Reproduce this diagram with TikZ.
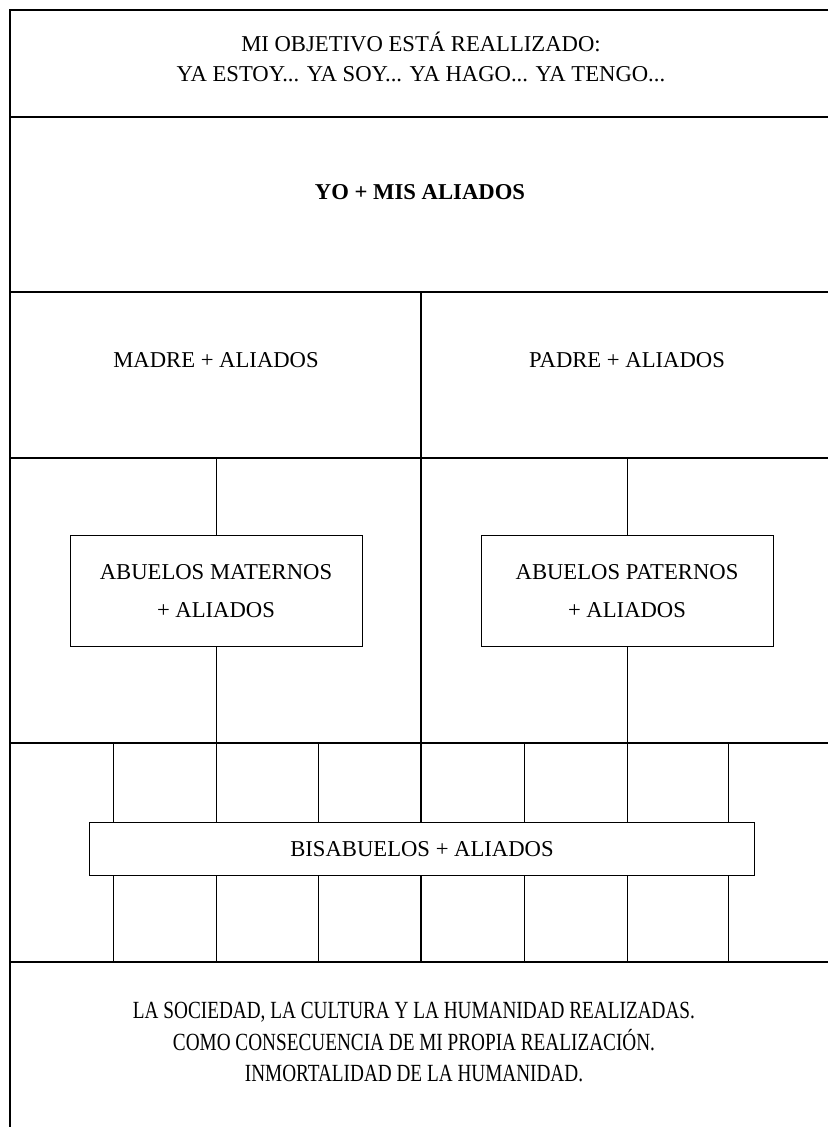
\documentclass[tikz,border=0pt]{standalone}
\usepackage{fontspec}
\setmainfont{Liberation Serif}
\newfontfamily\narrowserif{Liberation Serif}[FakeStretch=0.78]
\usetikzlibrary{positioning,calc}

\begin{document}
\begin{tikzpicture}[x=0.75pt,y=-0.75pt,
   txt/.style={align=center,font=\fontsize{17}{22}\selectfont},
   bx/.style={draw,fill=white,line width=0.6pt,align=center,font=\fontsize{17}{28}\selectfont},
   frame/.style={line width=1.8pt},
   link/.style={line width=0.6pt}]
  \useasboundingbox (0,0) rectangle (828,1127);
  % frame and rows
  \draw[frame] (828,10) -- (10,10) -- (10,1127);
  \foreach \y in {117,292,458,743,962}
    \draw[frame] (10,\y) -- (828,\y);
  \draw[frame] (421,292) -- (421,962);
  % texts
  \node[txt] (obj) at (421,57) {MI OBJETIVO ESTÁ REALLIZADO:\\YA ESTOY... YA SOY... YA HAGO... YA TENGO...};
  \node[txt,font=\fontsize{17}{22}\selectfont\bfseries] (yo) at (420,192) {YO + MIS ALIADOS};
  \node[txt] (madre) at (216,360) {MADRE + ALIADOS};
  \node[txt] (padre) at (627,360) {PADRE + ALIADOS};
  \node[bx,minimum width=219pt,minimum height=83pt] (amat) at (216,591) {ABUELOS MATERNOS\\+ ALIADOS};
  \node[bx,minimum width=219pt,minimum height=83pt] (apat) at (627,591) {ABUELOS PATERNOS\\+ ALIADOS};
  \node[bx,minimum width=499pt,minimum height=40pt] (bis) at (422,849) {BISABUELOS + ALIADOS};
  \node[txt,font=\narrowserif\fontsize{18.5}{23.5}\selectfont] (soc) at (414,1042) {LA SOCIEDAD, LA CULTURA Y LA HUMANIDAD REALIZADAS.\\COMO CONSECUENCIA DE MI PROPIA REALIZACIÓN.\\INMORTALIDAD DE LA HUMANIDAD.};
  % links
  \draw[link] (amat.north |- 0,458) -- (amat.north);
  \draw[link] (amat.south) -- (amat.south |- 0,743);
  \draw[link] (apat.north |- 0,458) -- (apat.north);
  \draw[link] (apat.south) -- (apat.south |- 0,743);
  \foreach \x in {113,216,318,524,627,728} {
    \draw[link] (\x,743) -- (bis.north -| \x,0);
    \draw[link] (bis.south -| \x,0) -- (\x,962);
  }
\end{tikzpicture}
\end{document}
